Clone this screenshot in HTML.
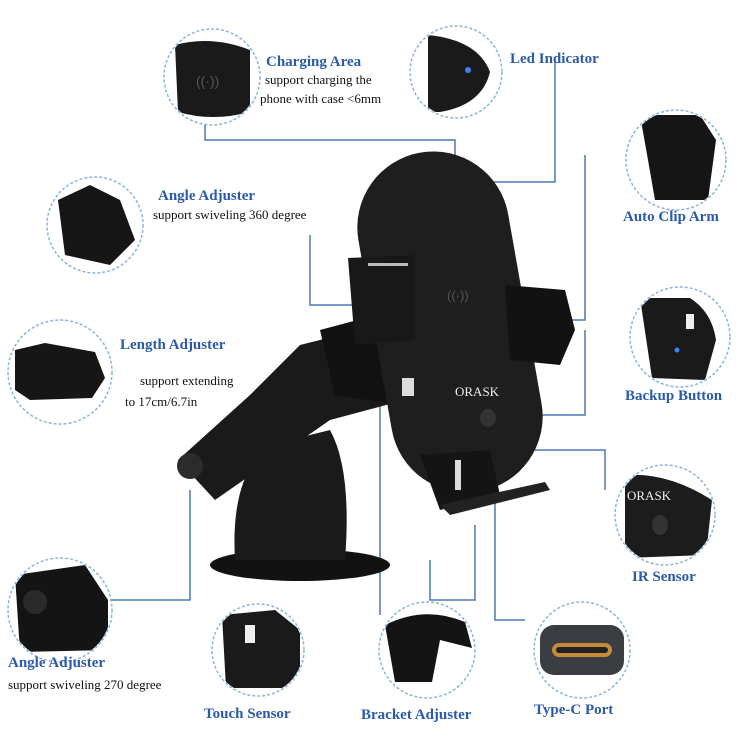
<!DOCTYPE html>
<html><head><style>
body{margin:0;background:#fff;width:750px;height:750px;overflow:hidden}
svg{display:block}
.l{font-family:"Liberation Serif",serif;font-weight:bold;fill:#2a5aa8;font-size:15px}
.d{font-family:"Liberation Serif",serif;fill:#111;font-size:13px}
.c{fill:none;stroke:#8fb3d9;stroke-width:1.5;stroke-dasharray:3 2}
.k{stroke:#4a78b8;stroke-width:1.5;fill:none}
</style></head><body>
<svg width="750" height="750" viewBox="0 0 750 750">
<defs>
<clipPath id="c1"><circle cx="212" cy="77" r="47"/></clipPath>
<clipPath id="c2"><circle cx="456" cy="72" r="45"/></clipPath>
<clipPath id="c3"><circle cx="676" cy="160" r="49"/></clipPath>
<clipPath id="c4"><circle cx="95" cy="225" r="47"/></clipPath>
<clipPath id="c5"><circle cx="60" cy="372" r="51"/></clipPath>
<clipPath id="c6"><circle cx="680" cy="337" r="49"/></clipPath>
<clipPath id="c7"><circle cx="665" cy="515" r="49"/></clipPath>
<clipPath id="c8"><circle cx="60" cy="610" r="51"/></clipPath>
<clipPath id="c9"><circle cx="258" cy="650" r="45"/></clipPath>
<clipPath id="c10"><circle cx="427" cy="650" r="47"/></clipPath>
<clipPath id="c11"><circle cx="582" cy="650" r="47"/></clipPath>
</defs>
<!-- connectors -->
<path class="k" d="M205 125 V140 H455 V275"/>
<path class="k" d="M555 60 V182 H468"/>
<path class="k" d="M585 155 V320 H562"/>
<path class="k" d="M310 235 V305 H356"/>
<path class="k" d="M585 330 V415 H530"/>
<path class="k" d="M493 450 H605 V490"/>
<path class="k" d="M380 395 V615"/>
<path class="k" d="M430 560 V600 H475 V525"/>
<path class="k" d="M495 460 V620 H525"/>
<path class="k" d="M110 600 H190 V490"/>
<!-- circle contents -->
<g clip-path="url(#c1)">
<path d="M175 45 Q212 35 250 50 L250 112 Q212 122 178 112 Z" fill="#1a1a1a"/>
<text x="196" y="86" fill="#555" font-size="14" font-family="Liberation Sans">((·))</text></g>
<g clip-path="url(#c2)"><path d="M428 35 Q478 40 490 72 Q482 105 440 112 L428 112 Z" fill="#1a1a1a"/>
<circle cx="468" cy="70" r="3" fill="#3b82f6"/></g>
<g clip-path="url(#c3)"><path d="M640 115 H700 L716 140 L708 200 L655 200 L648 160 Z" fill="#151515"/></g>
<g clip-path="url(#c4)"><path d="M58 200 L90 185 L120 200 L135 240 L110 265 L65 255 Z" fill="#161616"/></g>
<g clip-path="url(#c5)"><path d="M15 350 L45 343 L95 352 L105 378 L92 398 L30 400 L15 390 Z" fill="#161616"/></g>
<g clip-path="url(#c6)"><path d="M640 298 H690 Q712 312 716 340 L705 380 L652 378 Z" fill="#1a1a1a"/>
<rect x="686" y="314" width="8" height="15" fill="#eee"/>
<circle cx="677" cy="350" r="2.5" fill="#3b82f6"/></g>
<g clip-path="url(#c7)"><path d="M625 475 Q668 472 712 500 L706 555 L625 558 Z" fill="#1c1c1c"/>
<text x="627" y="500" fill="#eee" font-size="13" font-family="Liberation Serif">ORASK</text>
<ellipse cx="660" cy="525" rx="8" ry="10" fill="#333"/></g>
<g clip-path="url(#c8)"><path d="M15 575 L85 565 L108 600 L108 650 L20 652 Z" fill="#141414"/>
<circle cx="35" cy="602" r="12" fill="#2a2a2a"/></g>
<g clip-path="url(#c9)"><path d="M222 615 L275 610 L300 630 L300 688 L226 688 Z" fill="#1a1a1a"/>
<rect x="245" y="625" width="10" height="18" fill="#eee"/></g>
<g clip-path="url(#c10)"><path d="M385 625 Q425 605 465 622 L472 648 L440 640 L432 682 L395 682 Z" fill="#141414"/></g>
<g clip-path="url(#c11)"><rect x="540" y="625" width="84" height="50" rx="14" fill="#3a3d42"/>
<rect x="552" y="643" width="60" height="14" rx="7" fill="#c8893a"/>
<rect x="556" y="647" width="52" height="6" rx="3" fill="#222"/></g>
<circle class="c" cx="212" cy="77" r="48"/>
<circle class="c" cx="456" cy="72" r="46"/>
<circle class="c" cx="676" cy="160" r="50"/>
<circle class="c" cx="95" cy="225" r="48"/>
<circle class="c" cx="60" cy="372" r="52"/>
<circle class="c" cx="680" cy="337" r="50"/>
<circle class="c" cx="665" cy="515" r="50"/>
<circle class="c" cx="60" cy="610" r="52"/>
<circle class="c" cx="258" cy="650" r="46"/>
<circle class="c" cx="427" cy="650" r="48"/>
<circle class="c" cx="582" cy="650" r="48"/>
<!-- main device -->
<ellipse cx="300" cy="565" rx="90" ry="16" fill="#121212"/>
<path d="M235 560 Q230 475 270 445 L330 430 Q352 470 345 560 Z" fill="#1b1b1b"/>
<path d="M178 460 L250 395 L300 345 L340 335 L395 350 L405 400 L330 420 L215 500 Z" fill="#1a1a1a"/>
<circle cx="190" cy="466" r="13" fill="#2b2b2b"/>
<path d="M320 330 L365 318 L415 345 L400 405 L335 395 Z" fill="#111"/>
<rect x="-76" y="-172" width="152" height="344" rx="76" fill="#1e1e1e" transform="translate(450,322) rotate(-10)"/>
<path d="M348 258 L415 255 L415 340 L355 345 Z" fill="#181818"/>
<rect x="368" y="263" width="40" height="3" fill="#bbb"/>
<path d="M505 285 L565 290 L575 330 L560 365 L510 360 Z" fill="#121212"/>
<rect x="402" y="378" width="12" height="18" fill="#ddd"/>
<path d="M420 455 L490 450 L500 495 L440 510 Z" fill="#141414"/>
<rect x="455" y="460" width="6" height="30" fill="#ddd"/>
<path d="M440 505 L545 482 L550 490 L450 515 Z" fill="#222"/>
<text x="447" y="300" fill="#555" font-size="13" font-family="Liberation Sans">((·))</text>
<text x="455" y="396" fill="#eee" font-size="13" font-family="Liberation Serif">ORASK</text>
<ellipse cx="488" cy="418" rx="8" ry="9" fill="#333"/>
<!-- labels -->
<text class="l" x="266" y="66">Charging Area</text>
<text class="d" x="265" y="84">support charging the</text>
<text class="d" x="260" y="103">phone with case &lt;6mm</text>
<text class="l" x="510" y="63">Led Indicator</text>
<text class="l" x="623" y="221">Auto Clip Arm</text>
<text class="l" x="158" y="200">Angle Adjuster</text>
<text class="d" x="153" y="219">support swiveling 360 degree</text>
<text class="l" x="120" y="349">Length Adjuster</text>
<text class="d" x="140" y="385">support extending</text>
<text class="d" x="125" y="406">to 17cm/6.7in</text>
<text class="l" x="625" y="400">Backup Button</text>
<text class="l" x="632" y="581">IR Sensor</text>
<text class="l" x="8" y="667">Angle Adjuster</text>
<text class="d" x="8" y="689">support swiveling 270 degree</text>
<text class="l" x="204" y="718">Touch Sensor</text>
<text class="l" x="361" y="719">Bracket Adjuster</text>
<text class="l" x="534" y="714">Type-C Port</text>
</svg>
</body></html>
